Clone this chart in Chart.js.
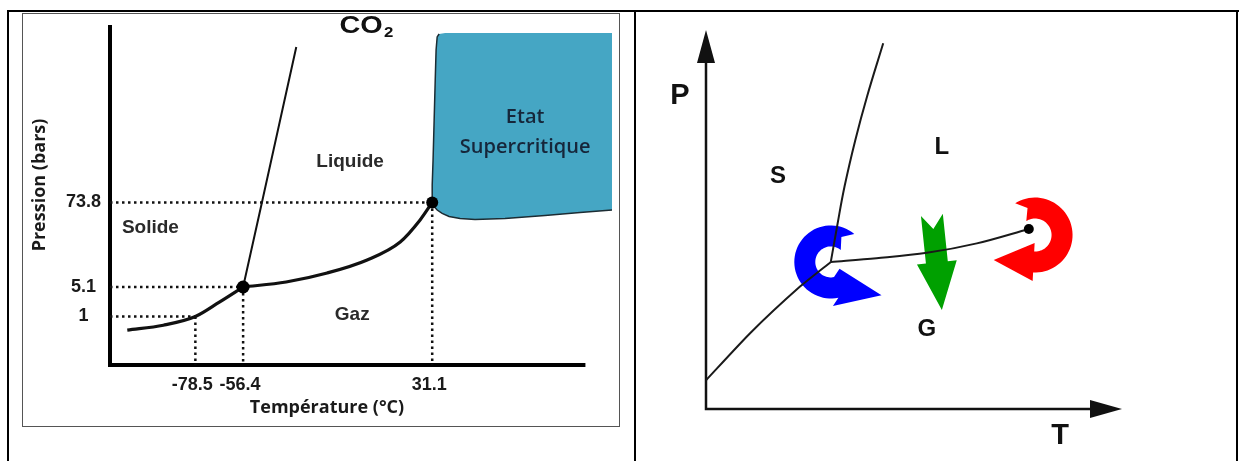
<!DOCTYPE html>
<html lang="fr">
<head>
<meta charset="utf-8">
<title>Diagrammes de phase</title>
<script src="https://cdn.jsdelivr.net/npm/chart.js@4.4.1/dist/chart.umd.min.js"></script>
<style>
  html, body { margin: 0; padding: 0; background: #fff; }
  body { width: 1245px; height: 461px; position: relative; overflow: hidden; }
  .rule { position: absolute; background: #000; }
  #box { position: absolute; left: 22px; top: 13px; width: 598px; height: 414px; border: 1px solid #555; box-sizing: border-box; }
  canvas { position: absolute; }
  #co2 { left: 22px; top: 13px; }
  #pt { left: 637px; top: 13px; }
</style>
</head>
<body>
<div class="rule" style="left:7px;top:10px;width:1232px;height:2px"></div>
<div class="rule" style="left:7px;top:10px;width:2px;height:451px"></div>
<div class="rule" style="left:634px;top:10px;width:2px;height:451px"></div>
<div class="rule" style="left:1236px;top:10px;width:2px;height:451px"></div>
<div id="box"></div>
<canvas id="co2" width="598" height="414"></canvas>
<canvas id="pt" width="598" height="448"></canvas>
<script>
// ---------- CO2 (gauche) ----------
const tempTicks = [-78.5, -56.4, 31.1];
const pressureTicks = [1, 5.1, 73.8];

const sublimationT = [-110, -93.3, -78.5, -67.4, -56.4];
const sublimationP = [0.72, 0.82, 1, 3.0, 5.1];
const vaporisationT = [-56.4, -36.5, -17.5, 1.0, 16.3, 25.5, 31.1];
const vaporisationP = [5.1, 9.2, 16.5, 27.1, 41.7, 59.6, 73.8];
const fusionT = [-56.4, -47.7, -31.8];
const fusionP = [5.1, 73.8, 184.4];

// zone supercritique : coin haut droit, bord gauche, point critique, bord bas
const supercritT = [114.3, 37.1, 34.3, 33.4, 32.9, 32.5, 32.0, 31.5, 31.1, 31.1, 32.0, 33.4, 35.7, 38.9, 44.0, 50.9, 64.8, 83.3, 99.5, 114.3];
const supercritP = [194.3, 194.3, 193.6, 191.5, 182.2, 160.9, 132.5, 104.0, 86.2, 73.8, 70.5, 67.7, 64.9, 62.4, 60.8, 60.0, 60.8, 63.2, 65.7, 67.7];

const triplePoint = {T: -56.4, P: 5.1};
const criticalPoint = {T: 31.1, P: 73.8};
const boilingPoint = {T: -78.5, P: 1};

const phaseLabels = [
  {text: 'Solide', T: -99.3, P: 53.1},
  {text: 'Liquide', T: -6.9, P: 102.6},
  {text: 'Gaz', T: -5.9, P: 1.2}
];
const superLabels = [
  {text: 'Etat', T: 74.1, P: 134.6},
  {text: 'Supercritique', T: 74.1, P: 113.3}
];

const tMin = -118, tMax = 114.3, axisEndT = 102;
const pMax = 200;
// position (fraction de hauteur) des paliers de pression : axe schématique
const pressureBreaks = [[0, 0], [1, 0.1426], [5.1, 0.2294], [73.8, 0.4779], [200, 1]];

// ---------- diagramme P-T (droite), unités schématiques ----------
const solGazX = [0, 10.6, 22.6, 30];
const solGazY = [7.6, 20.0, 32.3, 38.8];
const solLiqX = [30, 31.5, 33.3, 35.9, 38.7, 42.6];
const solLiqY = [38.8, 48.1, 58.7, 71.0, 82.4, 96.5];
const liqGazX = [30, 41, 53.1, 65.1, 77.6];
const liqGazY = [38.8, 39.8, 41.2, 43.7, 47.5];
const ptCritical = {x: 77.6, y: 47.5};
const ptLabels = [
  {text: 'S', x: 17.3, y: 61.3},
  {text: 'L', x: 56.7, y: 69.0},
  {text: 'G', x: 53.1, y: 21.1}
];
const blueCenter = {x: 30, y: 38.8};
const redCenter = {x: 79.1, y: 45.9};
const greenFrom = {x: 54.3, y: 51.2};
const greenTo = {x: 56.7, y: 26.1};

const SANS = '"Liberation Sans", Arial, sans-serif';
const OPEN = '"Open Sans", "Liberation Sans", sans-serif';

class PiecewiseScale extends Chart.LinearScale {
  static id = 'piecewise';
  static defaults = Chart.LinearScale.defaults;
  decimalFor(v) {
    const b = pressureBreaks;
    let i = 1;
    while (i < b.length - 1 && v > b[i][0]) i++;
    const [v0, f0] = b[i - 1], [v1, f1] = b[i];
    return f0 + (v - v0) / (v1 - v0) * (f1 - f0);
  }
  getPixelForValue(v) {
    return v === null ? NaN : this.getPixelForDecimal(this.decimalFor(v));
  }
  getValueForPixel(px) {
    const d = this.getDecimalForPixel(px);
    const b = pressureBreaks;
    let i = 1;
    while (i < b.length - 1 && d > b[i][1]) i++;
    const [v0, f0] = b[i - 1], [v1, f1] = b[i];
    return v0 + (d - f0) / (f1 - f0) * (v1 - v0);
  }
}
Chart.register(PiecewiseScale);

const pts = (xs, ys) => xs.map((x, i) => ({x: x, y: ys[i]}));
const curve = (xs, ys, w, extra) => Object.assign({
  data: pts(xs, ys), showLine: true, borderColor: '#111', borderWidth: w,
  pointRadius: 0, fill: false
}, extra || {});
const dotted = (a, b) => ({
  data: [a, b], showLine: true, borderColor: '#111', borderWidth: 2.5,
  borderDash: [2.5, 3.5], pointRadius: 0, fill: false
});
const noPad = s => { s.paddingTop = 0; s.paddingBottom = 0; s.paddingLeft = 0; s.paddingRight = 0; };

const co2Decor = {
  id: 'co2Decor',
  beforeDatasetsDraw(chart) {
    const {ctx, scales: {x, y}} = chart;
    ctx.save();
    ctx.strokeStyle = '#000';
    ctx.lineWidth = 4;
    ctx.lineCap = 'butt';
    ctx.lineJoin = 'miter';
    ctx.beginPath();
    ctx.moveTo(x.getPixelForValue(tMin), y.getPixelForValue(pMax));
    ctx.lineTo(x.getPixelForValue(tMin), y.getPixelForValue(0));
    ctx.lineTo(x.getPixelForValue(axisEndT), y.getPixelForValue(0));
    ctx.stroke();
    ctx.restore();
  },
  afterDatasetsDraw(chart) {
    const {ctx, chartArea, scales: {x, y}} = chart;
    ctx.save();
    ctx.textAlign = 'center';
    ctx.textBaseline = 'middle';
    ctx.fillStyle = '#2a2a2a';
    ctx.font = 'bold 19px ' + SANS;
    phaseLabels.forEach(l => ctx.fillText(l.text, x.getPixelForValue(l.T), y.getPixelForValue(l.P)));
    ctx.fillStyle = '#16263a';
    ctx.font = '600 20px ' + OPEN;
    superLabels.forEach(l => ctx.fillText(l.text, x.getPixelForValue(l.T), y.getPixelForValue(l.P)));

    // titre CO2
    ctx.save();
    ctx.translate(x.getPixelForValue(8.2), y.getPixelForValue(194.2));
    ctx.scale(1.2, 1);
    ctx.fillStyle = '#111';
    ctx.textBaseline = 'alphabetic';
    ctx.textAlign = 'right';
    ctx.font = 'bold 24px ' + SANS;
    ctx.fillText('CO', 0, 0);
    ctx.textAlign = 'left';
    ctx.font = 'bold 14px ' + SANS;
    ctx.fillText('2', 1, 4);
    ctx.restore();

    // titres des axes
    ctx.fillStyle = '#1a1a1a';
    ctx.font = 'bold 18px ' + OPEN;
    ctx.fillText('Température (°C)', chartArea.left + 217, chartArea.bottom + 43);
    ctx.save();
    ctx.translate(chartArea.left - 70, chartArea.top + 160);
    ctx.rotate(-Math.PI / 2);
    ctx.fillText('Pression (bars)', 0, 0);
    ctx.restore();
    ctx.restore();
  }
};

new Chart(document.getElementById('co2'), {
  type: 'scatter',
  data: {
    datasets: [
      {data: [triplePoint, criticalPoint].map(p => ({x: p.T, y: p.P})), showLine: false,
       pointRadius: [6.5, 6], backgroundColor: '#000', borderWidth: 0},
      curve(sublimationT, sublimationP, 3.2, {cubicInterpolationMode: 'monotone'}),
      curve(vaporisationT, vaporisationP, 3.2, {cubicInterpolationMode: 'monotone'}),
      curve(fusionT, fusionP, 2),
      dotted({x: tMin, y: criticalPoint.P}, {x: criticalPoint.T, y: criticalPoint.P}),
      dotted({x: criticalPoint.T, y: criticalPoint.P}, {x: criticalPoint.T, y: 0}),
      dotted({x: tMin, y: triplePoint.P}, {x: triplePoint.T, y: triplePoint.P}),
      dotted({x: triplePoint.T, y: triplePoint.P}, {x: triplePoint.T, y: 0}),
      dotted({x: tMin, y: boilingPoint.P}, {x: boilingPoint.T, y: boilingPoint.P}),
      dotted({x: boilingPoint.T, y: boilingPoint.P}, {x: boilingPoint.T, y: 0}),
      curve(supercritT.slice(2), supercritP.slice(2), 1.5, {borderColor: '#1c2c33', tension: 0}),
      {data: pts(supercritT, supercritP), showLine: true, fill: 'shape', backgroundColor: '#45a6c4',
       borderColor: 'rgba(0,0,0,0)', borderWidth: 0, pointRadius: 0}
    ]
  },
  options: {
    responsive: false,
    animation: false,
    devicePixelRatio: 1,
    events: [],
    layout: {padding: {left: 0, top: 12, right: 8, bottom: 0}},
    scales: {
      x: {
        type: 'linear', min: tMin, max: tMax,
        afterBuildTicks: s => { s.ticks = tempTicks.map(v => ({value: v})); },
        afterFit: s => { s.height = 62; noPad(s); },
        grid: {display: false, drawTicks: false},
        border: {display: false},
        ticks: {callback: v => String(v), autoSkip: false, maxRotation: 0, padding: 9, labelOffset: -3,
                color: '#1a1a1a', font: {family: SANS, size: 18, weight: 'bold'}}
      },
      y: {
        type: 'piecewise', min: 0, max: pMax,
        afterBuildTicks: s => { s.ticks = pressureTicks.map(v => ({value: v})); },
        afterFit: s => { s.width = 88; noPad(s); },
        grid: {display: false, drawTicks: false},
        border: {display: false},
        ticks: {callback: v => String(v), autoSkip: false, padding: 9, crossAlign: 'center',
                color: '#1a1a1a', font: {family: SANS, size: 18, weight: 'bold'}}
      }
    },
    plugins: {legend: {display: false}, tooltip: {enabled: false}}
  },
  plugins: [co2Decor]
});

// ---------- flèches colorées ----------
function curvedArrow(ctx, cx, cy, a) {
  const n = 48, dir = Math.sign(a.a1 - a.a0);
  const ro = a.r + a.w / 2, ri = a.r - a.w / 2;
  ctx.beginPath();
  for (let i = 0; i <= n; i++) {
    const t = a.a0 + (a.a1 - a.a0) * i / n;
    const px = cx + ro * Math.cos(t), py = cy + ro * Math.sin(t);
    if (i === 0) ctx.moveTo(px, py); else ctx.lineTo(px, py);
  }
  // direction de la pointe : tangente, éventuellement inclinée
  const tang = Math.atan2(Math.cos(a.a1) * dir, -Math.sin(a.a1) * dir) + (a.tilt || 0);
  const tx = Math.cos(tang), ty = Math.sin(tang);
  const nx = ty * dir, ny = -tx * dir;
  const bx = cx + a.r * Math.cos(a.a1), by = cy + a.r * Math.sin(a.a1);
  ctx.lineTo(bx + nx * a.head, by + ny * a.head);
  ctx.lineTo(bx + tx * a.len, by + ty * a.len);
  ctx.lineTo(bx - nx * a.head, by - ny * a.head);
  for (let i = n; i >= 0; i--) {
    const t = a.a0 + (a.a1 - a.a0) * i / n;
    ctx.lineTo(cx + ri * Math.cos(t), cy + ri * Math.sin(t));
  }
  const ux = -Math.sin(a.a0) * dir, uy = Math.cos(a.a0) * dir;
  ctx.lineTo(cx + a.r * Math.cos(a.a0) + ux * a.notch, cy + a.r * Math.sin(a.a0) + uy * a.notch);
  ctx.closePath();
  ctx.fillStyle = a.color;
  ctx.fill();
}

function straightArrow(ctx, x0, y0, x1, y1, a) {
  const L = Math.hypot(x1 - x0, y1 - y0);
  const ux = (x1 - x0) / L, uy = (y1 - y0) / L, nx = -uy, ny = ux;
  const bx = x1 - ux * a.len, by = y1 - uy * a.len;
  ctx.beginPath();
  ctx.moveTo(x0 + nx * a.w / 2, y0 + ny * a.w / 2);
  ctx.lineTo(bx + nx * a.w / 2, by + ny * a.w / 2);
  ctx.lineTo(bx + nx * a.head, by + ny * a.head);
  ctx.lineTo(x1, y1);
  ctx.lineTo(bx - nx * a.head, by - ny * a.head);
  ctx.lineTo(bx - nx * a.w / 2, by - ny * a.w / 2);
  ctx.lineTo(x0 - nx * a.w / 2, y0 - ny * a.w / 2);
  ctx.lineTo(x0 + ux * a.notch, y0 + uy * a.notch);
  ctx.closePath();
  ctx.fillStyle = a.color;
  ctx.fill();
}

const deg = Math.PI / 180;
const ptDecor = {
  id: 'ptDecor',
  beforeDatasetsDraw(chart) {
    const {ctx, scales: {x, y}} = chart;
    const X = v => x.getPixelForValue(v), Y = v => y.getPixelForValue(v);
    ctx.save();
    // axes avec flèches
    ctx.strokeStyle = '#111';
    ctx.fillStyle = '#111';
    ctx.lineWidth = 2.5;
    ctx.beginPath();
    ctx.moveTo(X(0), Y(100) + 30);
    ctx.lineTo(X(0), Y(0));
    ctx.lineTo(X(100) - 30, Y(0));
    ctx.stroke();
    ctx.beginPath();
    ctx.moveTo(X(0), Y(100));
    ctx.lineTo(X(0) - 9, Y(100) + 33);
    ctx.lineTo(X(0) + 9, Y(100) + 33);
    ctx.closePath();
    ctx.fill();
    ctx.beginPath();
    ctx.moveTo(X(100), Y(0));
    ctx.lineTo(X(100) - 32, Y(0) - 9);
    ctx.lineTo(X(100) - 32, Y(0) + 9);
    ctx.closePath();
    ctx.fill();

    curvedArrow(ctx, X(blueCenter.x), Y(blueCenter.y),
      {r: 26, w: 21, a0: -50 * deg, a1: -282 * deg, tilt: 22 * deg, head: 19, len: 46, notch: 8, color: '#0000ff'});
    curvedArrow(ctx, X(redCenter.x), Y(redCenter.y),
      {r: 27, w: 21, a0: -122 * deg, a1: 93 * deg, head: 19, len: 40, notch: 8, color: '#ff0000'});
    straightArrow(ctx, X(greenFrom.x), Y(greenFrom.y), X(greenTo.x), Y(greenTo.y),
      {w: 22, head: 20, len: 48, notch: 14, color: '#00a000'});
    ctx.restore();
  },
  afterDatasetsDraw(chart) {
    const {ctx, scales: {x, y}} = chart;
    ctx.save();
    ctx.fillStyle = '#111';
    ctx.textAlign = 'center';
    ctx.textBaseline = 'middle';
    ctx.font = 'bold 24px ' + SANS;
    ptLabels.forEach(l => ctx.fillText(l.text, x.getPixelForValue(l.x), y.getPixelForValue(l.y)));
    ctx.font = 'bold 29px ' + SANS;
    ctx.fillText('P', x.getPixelForValue(-6.25), y.getPixelForValue(82.6));
    ctx.fillText('T', x.getPixelForValue(85.1), y.getPixelForValue(-7.1));
    ctx.restore();
  }
};

new Chart(document.getElementById('pt'), {
  type: 'scatter',
  data: {
    datasets: [
      {data: [ptCritical], showLine: false, pointRadius: 5, backgroundColor: '#000', borderWidth: 0},
      curve(solGazX, solGazY, 2, {borderColor: '#1a1a1a', tension: 0.2}),
      curve(solLiqX, solLiqY, 2, {borderColor: '#1a1a1a', tension: 0.4}),
      curve(liqGazX, liqGazY, 2, {borderColor: '#1a1a1a', cubicInterpolationMode: 'monotone'})
    ]
  },
  options: {
    responsive: false,
    animation: false,
    devicePixelRatio: 1,
    events: [],
    layout: {padding: {left: 69, right: 113, top: 17, bottom: 52}},
    scales: {
      x: {type: 'linear', min: 0, max: 100, display: false},
      y: {type: 'linear', min: 0, max: 100, display: false}
    },
    plugins: {legend: {display: false}, tooltip: {enabled: false}}
  },
  plugins: [ptDecor]
});
</script>
</body>
</html>
